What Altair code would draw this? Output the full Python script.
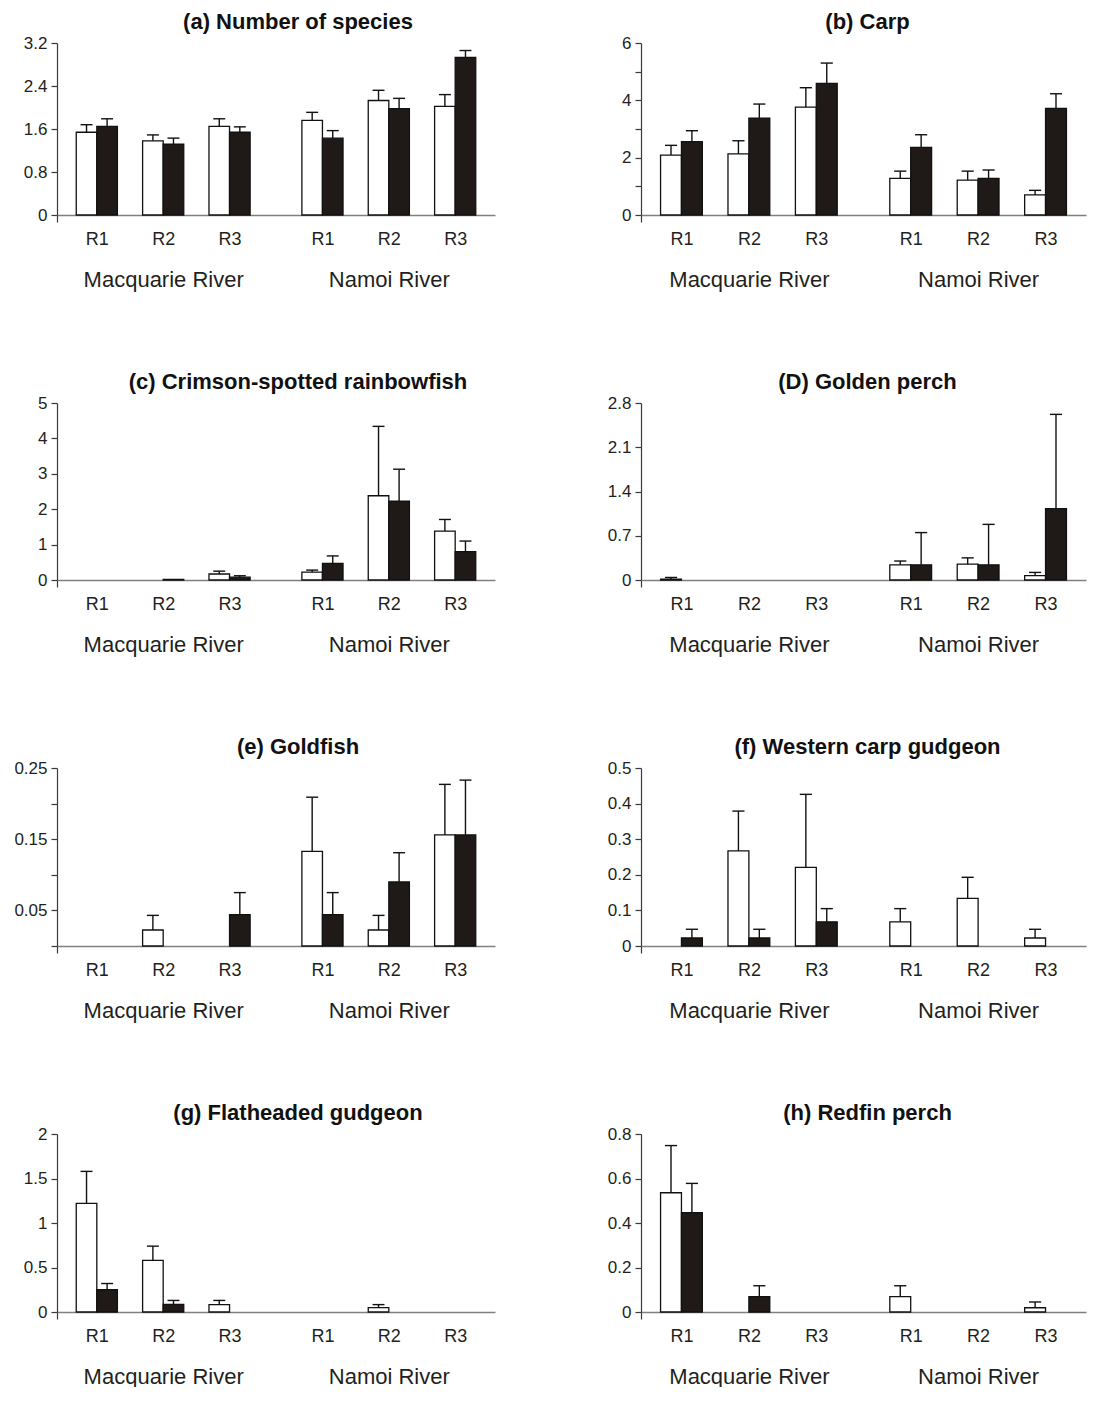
import altair as alt
import pandas as pd

# ---------------- data ----------------
sites = ["R1", "R2", "R3", "R1", "R2", "R3"]
rivers = ["Macquarie River", "Macquarie River", "Macquarie River",
          "Namoi River", "Namoi River", "Namoi River"]

# (a) Number of species
species_open = [1.54, 1.38, 1.65, 1.76, 2.13, 2.02]
species_open_se = [0.14, 0.11, 0.14, 0.15, 0.19, 0.22]
species_filled = [1.65, 1.32, 1.54, 1.43, 1.98, 2.93]
species_filled_se = [0.14, 0.11, 0.10, 0.14, 0.19, 0.13]
species_ticks = [0, 0.8, 1.6, 2.4, 3.2]
species_labels = [0, 0.8, 1.6, 2.4, 3.2]

# (b) Carp
carp_open = [2.09, 2.13, 3.76, 1.28, 1.22, 0.70]
carp_open_se = [0.34, 0.46, 0.68, 0.25, 0.31, 0.16]
carp_filled = [2.56, 3.38, 4.59, 2.36, 1.28, 3.72]
carp_filled_se = [0.38, 0.49, 0.71, 0.44, 0.29, 0.51]
carp_ticks = [0, 1, 2, 3, 4, 5, 6]
carp_labels = [0, 2, 4, 6]

# (c) Crimson-spotted rainbowfish
rainbow_open = [0, 0, 0.17, 0.22, 2.38, 1.38]
rainbow_open_se = [0, 0, 0.08, 0.06, 1.96, 0.33]
rainbow_filled = [0, 0.02, 0.08, 0.47, 2.23, 0.80]
rainbow_filled_se = [0, 0, 0.04, 0.21, 0.90, 0.30]
rainbow_ticks = [0, 1, 2, 3, 4, 5]
rainbow_labels = [0, 1, 2, 3, 4, 5]

# (D) Golden perch
golden_open = [0.015, 0, 0, 0.24, 0.25, 0.07]
golden_open_se = [0.025, 0, 0, 0.06, 0.10, 0.05]
golden_filled = [0, 0, 0, 0.24, 0.24, 1.13]
golden_filled_se = [0, 0, 0, 0.51, 0.64, 1.49]
golden_ticks = [0, 0.7, 1.4, 2.1, 2.8]
golden_labels = [0, 0.7, 1.4, 2.1, 2.8]

# (e) Goldfish
goldfish_open = [0, 0.0225, 0, 0.133, 0.0225, 0.156]
goldfish_open_se = [0, 0.0205, 0, 0.076, 0.0205, 0.071]
goldfish_filled = [0, 0, 0.044, 0.044, 0.090, 0.156]
goldfish_filled_se = [0, 0, 0.031, 0.031, 0.041, 0.077]
goldfish_ticks = [0, 0.05, 0.1, 0.15, 0.2, 0.25]
goldfish_labels = [0.05, 0.15, 0.25]

# (f) Western carp gudgeon
wcg_open = [0, 0.267, 0.221, 0.068, 0.134, 0.0225]
wcg_open_se = [0, 0.112, 0.205, 0.037, 0.059, 0.0245]
wcg_filled = [0.0225, 0.0225, 0.068, 0, 0, 0]
wcg_filled_se = [0.0245, 0.0245, 0.037, 0, 0, 0]
wcg_ticks = [0, 0.1, 0.2, 0.3, 0.4, 0.5]
wcg_labels = [0, 0.1, 0.2, 0.3, 0.4, 0.5]

# (g) Flatheaded gudgeon
fhg_open = [1.22, 0.58, 0.083, 0, 0.05, 0]
fhg_open_se = [0.36, 0.16, 0.047, 0, 0.033, 0]
fhg_filled = [0.25, 0.086, 0, 0, 0, 0]
fhg_filled_se = [0.07, 0.044, 0, 0, 0, 0]
fhg_ticks = [0, 0.5, 1, 1.5, 2]
fhg_labels = [0, 0.5, 1, 1.5, 2]

# (h) Redfin perch
redfin_open = [0.536, 0, 0, 0.069, 0, 0.019]
redfin_open_se = [0.212, 0, 0, 0.049, 0, 0.026]
redfin_filled = [0.446, 0.069, 0, 0, 0, 0]
redfin_filled_se = [0.132, 0.049, 0, 0, 0, 0]
redfin_ticks = [0, 0.2, 0.4, 0.6, 0.8]
redfin_labels = [0, 0.2, 0.4, 0.6, 0.8]

PANELS = [
    ("(a) Number of species", species_open, species_open_se, species_filled, species_filled_se, species_ticks, species_labels),
    ("(b) Carp", carp_open, carp_open_se, carp_filled, carp_filled_se, carp_ticks, carp_labels),
    ("(c) Crimson-spotted rainbowfish", rainbow_open, rainbow_open_se, rainbow_filled, rainbow_filled_se, rainbow_ticks, rainbow_labels),
    ("(D) Golden perch", golden_open, golden_open_se, golden_filled, golden_filled_se, golden_ticks, golden_labels),
    ("(e) Goldfish", goldfish_open, goldfish_open_se, goldfish_filled, goldfish_filled_se, goldfish_ticks, goldfish_labels),
    ("(f) Western carp gudgeon", wcg_open, wcg_open_se, wcg_filled, wcg_filled_se, wcg_ticks, wcg_labels),
    ("(g) Flatheaded gudgeon", fhg_open, fhg_open_se, fhg_filled, fhg_filled_se, fhg_ticks, fhg_labels),
    ("(h) Redfin perch", redfin_open, redfin_open_se, redfin_filled, redfin_filled_se, redfin_ticks, redfin_labels),
]

# ---------------- style / layout ----------------
FONT = "Liberation Sans"
X_DOMAIN = [0.4, 7.0]
RIVER_SHIFT = 3.4
HALF_BAR = 0.31
CAP = 0.09
ROW_HEIGHTS = [172, 177, 178, 178]
COL_WIDTHS = [438, 445]
TITLE_DX = [22, 4]
AXIS_DARK = "#3a3a3a"
AXIS_GREY = "#808080"
TEXT = "#231f20"
FILL_DARK = "#1f1a17"


def positions():
    return [(i % 3) + 1 + RIVER_SHIFT * (i // 3) for i in range(len(sites))]


def make_panel(k, title, o_m, o_se, f_m, f_se, yticks, ylabels):
    pos = positions()
    rows = []
    for i in range(len(sites)):
        for kind, m, s, side in (("open", o_m[i], o_se[i], -1), ("filled", f_m[i], f_se[i], 1)):
            c = pos[i] + side * HALF_BAR / 2
            rows.append(dict(site=sites[i], river=rivers[i], kind=kind, mean=m, se=s,
                             pos=pos[i], edge=pos[i] + side * HALF_BAR, cx=c,
                             cap0=c - CAP, cap1=c + CAP, top=m + s, zero=0.0))
    df = pd.DataFrame(rows)
    col = k % 2
    width = COL_WIDTHS[col]
    height = ROW_HEIGHTS[k // 2]
    ymax = yticks[-1]

    yscale = alt.Scale(domain=[0, ymax], nice=False, zero=True)
    xscale = alt.Scale(domain=X_DOMAIN, nice=False, zero=False)

    lab_list = ",".join(repr(float(v)) for v in ylabels)
    y_axis = alt.Axis(values=yticks, labelExpr=f"indexof([{lab_list}], datum.value) >= 0 ? format(datum.value, '~g') : ''",
                      grid=False, title=None, tickSize=6, tickWidth=1.2, tickColor=AXIS_DARK,
                      domainColor=AXIS_DARK, domainWidth=1.2, labelFont=FONT, labelFontSize=17,
                      labelColor=TEXT, labelPadding=4, labelFlush=False)

    # site label axis (R1, R2, R3 ...)
    site_expr = "''"
    for p, s in zip(pos, sites):
        site_expr = f"abs(datum.value - {p}) < 0.01 ? '{s}' : ({site_expr})"
    site_axis = alt.Axis(values=pos, labelExpr=site_expr, ticks=False, tickSize=0, domain=False,
                         grid=False, title=None, orient="bottom", labelFont=FONT, labelFontSize=18,
                         labelColor=TEXT, labelPadding=15, labelFlush=False, labelOverlap=False)

    # river label axis
    river_names = []
    river_pos = []
    for r in rivers:
        if r not in river_names:
            river_names.append(r)
    for r in river_names:
        ps = [p for p, rr in zip(pos, rivers) if rr == r]
        river_pos.append(sum(ps) / len(ps))
    river_expr = "''"
    for p, r in zip(river_pos, river_names):
        river_expr = f"abs(datum.value - {p}) < 0.01 ? '{r}' : ({river_expr})"
    river_axis = alt.Axis(values=river_pos, labelExpr=river_expr, ticks=False, tickSize=0, domain=False,
                          grid=False, title=None, orient="bottom", labelFont=FONT, labelFontSize=22,
                          labelColor=TEXT, labelPadding=54, labelFlush=False, labelOverlap=False)

    # baseline axis with a single tick at the left edge
    base_axis = alt.Axis(values=[X_DOMAIN[0]], labels=False, tickSize=7, tickWidth=1.2,
                         tickColor=AXIS_DARK, domain=True, domainColor=AXIS_GREY, domainWidth=1.5,
                         grid=False, title=None, orient="bottom")

    base = alt.Chart(df)

    open_bars = base.transform_filter("datum.kind == 'open' && datum.mean > 0").mark_bar(
        fill="white", stroke="#111111", strokeWidth=1.3
    ).encode(
        x=alt.X("edge:Q", scale=xscale, axis=site_axis),
        x2="pos:Q",
        y=alt.Y("mean:Q", scale=yscale, axis=y_axis),
        y2="zero:Q",
    )
    filled_bars = base.transform_filter("datum.kind == 'filled' && datum.mean > 0").mark_bar(
        fill=FILL_DARK, stroke="#111111", strokeWidth=1.3
    ).encode(
        x=alt.X("pos:Q", scale=xscale, axis=river_axis),
        x2="edge:Q",
        y=alt.Y("mean:Q", scale=yscale, axis=y_axis),
        y2="zero:Q",
    )
    stems = base.transform_filter("datum.se > 0").mark_rule(color="#111111", strokeWidth=1.4).encode(
        x=alt.X("cx:Q", scale=xscale, axis=base_axis),
        y=alt.Y("mean:Q", scale=yscale, axis=y_axis),
        y2="top:Q",
    )
    caps = base.transform_filter("datum.se > 0").mark_rule(color="#111111", strokeWidth=1.4).encode(
        x=alt.X("cap0:Q", scale=xscale, axis=None),
        x2="cap1:Q",
        y=alt.Y("top:Q", scale=yscale, axis=y_axis),
    )

    return alt.layer(open_bars, filled_bars, stems, caps).resolve_scale(
        x="independent"
    ).resolve_axis(x="independent").properties(
        width=width, height=height,
        title=alt.TitleParams(title, font=FONT, fontSize=22, fontWeight="bold", color="#111111",
                              anchor="middle", dx=TITLE_DX[col], offset=0),
    )


panels = [make_panel(k, *p) for k, p in enumerate(PANELS)]

chart = alt.concat(*panels, columns=2, spacing={"row": 81, "column": 112}).properties(
    padding={"top": 3, "left": 5, "right": 5, "bottom": 0}
).configure(background="white").configure_view(stroke="transparent", strokeWidth=0)

chart.save("out.html", embed_options={"renderer": "svg", "actions": False})
